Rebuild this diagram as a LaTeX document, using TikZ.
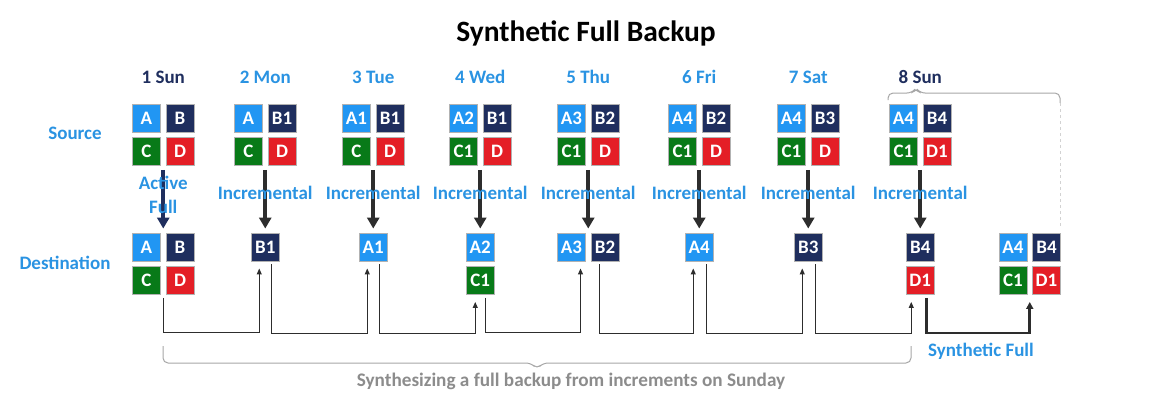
\documentclass[tikz,border=0pt]{standalone}
\usepackage{fontspec}
\setmainfont{Carlito}
\usetikzlibrary{arrows.meta, positioning}

\definecolor{cellA}{RGB}{33,150,243}
\definecolor{cellB}{RGB}{31,46,94}
\definecolor{cellC}{RGB}{8,122,24}
\definecolor{cellD}{RGB}{228,30,38}
\definecolor{txtblue}{RGB}{42,147,226}
\definecolor{navy}{RGB}{31,46,94}
\definecolor{lnk}{RGB}{45,45,45}
\definecolor{notegray}{RGB}{140,140,140}

\tikzset{
    cell/.style={minimum size=28pt, inner sep=0pt, draw=gray!60, line width=0.9pt,
        text=white, font=\fontsize{19}{19}\selectfont\bfseries},
    cellA/.style={cell, fill=cellA},
    cellB/.style={cell, fill=cellB},
    cellC/.style={cell, fill=cellC},
    cellD/.style={cell, fill=cellD},
    stage/.style={text=txtblue, font=\fontsize{19}{24}\selectfont\bfseries},
    xfer/.style={line width=4pt, draw=lnk, -{Triangle[length=11pt, width=12pt]},
        shorten <=4pt, shorten >=4pt},
    link/.style={line width=1pt, draw=lnk, -{Triangle[length=6pt, width=5pt]},
        shorten <=3pt, shorten >=7pt},
    synth/.style={line width=2.6pt, -{Triangle[length=7pt, width=7pt]}},
    brace/.style={line width=1pt, draw=gray!70, rounded corners=5pt}
}

\begin{document}
\begin{tikzpicture}[x=1pt, y=-1pt, node distance=33.5pt, on grid]
    \useasboundingbox (0,0) rectangle (1154,410);

    \node[font=\fontsize{29.5}{29.5}\selectfont\bfseries] (title) at (586,33) {Synthetic Full Backup};

    % days
    \node[stage, text=navy] (t1) at (163.25,77) {1 Sun};
    \node[stage]            (t2) at (265.25,77) {2 Mon};
    \node[stage]            (t3) at (373.25,77) {3 Tue};
    \node[stage]            (t4) at (480.25,77) {4 Wed};
    \node[stage]            (t5) at (588.25,77) {5 Thu};
    \node[stage]            (t6) at (699.25,77) {6 Fri};
    \node[stage]            (t7) at (808.25,77) {7 Sat};
    \node[stage, text=navy] (t8) at (920.25,77) {8 Sun};

    \node[stage] (src) at (75,133) {Source};
    \node[stage] (dst) at (65,263) {Destination};

    % source
    \node[cellA] (s1a) at (146.5,118) {A};
    \node[cellB] (s1b) [right=of s1a] {B};
    \node[cellC] (s1c) [below=of s1a] {C};
    \node[cellD] (s1d) [right=of s1c] {D};

    \node[cellA] (s2a) at (248.5,118) {A};
    \node[cellB] (s2b) [right=of s2a] {B1};
    \node[cellC] (s2c) [below=of s2a] {C};
    \node[cellD] (s2d) [right=of s2c] {D};

    \node[cellA] (s3a) at (356.5,118) {A1};
    \node[cellB] (s3b) [right=of s3a] {B1};
    \node[cellC] (s3c) [below=of s3a] {C};
    \node[cellD] (s3d) [right=of s3c] {D};

    \node[cellA] (s4a) at (463.5,118) {A2};
    \node[cellB] (s4b) [right=of s4a] {B1};
    \node[cellC] (s4c) [below=of s4a] {C1};
    \node[cellD] (s4d) [right=of s4c] {D};

    \node[cellA] (s5a) at (571.5,118) {A3};
    \node[cellB] (s5b) [right=of s5a] {B2};
    \node[cellC] (s5c) [below=of s5a] {C1};
    \node[cellD] (s5d) [right=of s5c] {D};

    \node[cellA] (s6a) at (682.5,118) {A4};
    \node[cellB] (s6b) [right=of s6a] {B2};
    \node[cellC] (s6c) [below=of s6a] {C1};
    \node[cellD] (s6d) [right=of s6c] {D};

    \node[cellA] (s7a) at (791.5,118) {A4};
    \node[cellB] (s7b) [right=of s7a] {B3};
    \node[cellC] (s7c) [below=of s7a] {C1};
    \node[cellD] (s7d) [right=of s7c] {D};

    \node[cellA] (s8a) at (903.5,118) {A4};
    \node[cellB] (s8b) [right=of s8a] {B4};
    \node[cellC] (s8c) [below=of s8a] {C1};
    \node[cellD] (s8d) [right=of s8c] {D1};

    % destination
    \node[cellA] (d1a) at (146.5,247) {A};
    \node[cellB] (d1b) [right=of d1a] {B};
    \node[cellC] (d1c) [below=of d1a] {C};
    \node[cellD] (d1d) [right=of d1c] {D};

    \node[cellB] (d2) at (265.25,247) {B1};
    \node[cellA] (d3) at (373.25,247) {A1};
    \node[cellA] (d4a) at (480.25,247) {A2};
    \node[cellC] (d4c) [below=of d4a] {C1};
    \node[cellA] (d5a) at (571.5,247) {A3};
    \node[cellB] (d5b) [right=of d5a] {B2};
    \node[cellA] (d6) at (699.25,247) {A4};
    \node[cellB] (d7) at (808.25,247) {B3};
    \node[cellB] (d8b) at (920.25,247) {B4};
    \node[cellD] (d8d) [below=of d8b] {D1};

    \node[cellA] (fa) at (1013,247) {A4};
    \node[cellB] (fb) [right=of fa] {B4};
    \node[cellC] (fc) [below=of fa] {C1};
    \node[cellD] (fd) [right=of fc] {D1};

    % daily transfers
    \draw[xfer, draw=navy] ([xshift=16.75pt]s1c.south) -- ([xshift=16.75pt]d1a.north)
        node[stage, pos=0.44, align=center] {Active\\Full};
    \draw[xfer] ([xshift=16.75pt]s2c.south) -- (d2.north) node[stage, pos=0.41] {Incremental};
    \draw[xfer] ([xshift=16.75pt]s3c.south) -- (d3.north) node[stage, pos=0.41] {Incremental};
    \draw[xfer] ([xshift=16.75pt]s4c.south) -- (d4a.north) node[stage, pos=0.41] {Incremental};
    \draw[xfer] ([xshift=16.75pt]s5c.south) -- ([xshift=16.75pt]d5a.north) node[stage, pos=0.41] {Incremental};
    \draw[xfer] ([xshift=16.75pt]s6c.south) -- (d6.north) node[stage, pos=0.41] {Incremental};
    \draw[xfer] ([xshift=16.75pt]s7c.south) -- (d7.north) node[stage, pos=0.41] {Incremental};
    \draw[xfer] ([xshift=16.75pt]s8c.south) -- (d8b.north) node[stage, pos=0.41] {Incremental};

    % chain of increments
    \draw[link] ([xshift=16.75pt]d1c.south) -- ++(0,38) -| ([xshift=-6pt]d2.south);
    \draw[link] ([xshift=6pt]d2.south) -- ++(0,72) -| ([xshift=-6pt]d3.south);
    \draw[link] ([xshift=6pt]d3.south) -- ++(0,72) -| ([xshift=-5pt]d4c.south);
    \draw[link] ([xshift=5pt]d4c.south) -- ++(0,38) -| ([xshift=9pt]d5a.south);
    \draw[link] ([xshift=-6pt]d5b.south) -- ++(0,72) -| ([xshift=-6pt]d6.south);
    \draw[link] ([xshift=7pt]d6.south) -- ++(0,72) -| ([xshift=-6pt]d7.south);
    \draw[link] ([xshift=7pt]d7.south) -- ++(0,72) -| ([xshift=-9pt]d8d.south);
    \draw[link, synth] ([xshift=6pt]d8d.south) -- ++(0,38) -| ([xshift=16.75pt]fc.south);

    \node[stage] (sf) at (981,351) {Synthetic Full};

    % braces
    \draw[brace] (163,346) |- (531,363) -- (537,369) -- (543,363) -| (911,346);
    \node[text=notegray, font=\fontsize{19.2}{19.2}\selectfont\bfseries] (note) at (571,381)
        {Synthesizing a full backup from increments on Sunday};
    \draw[brace] (888,100) |- (912,93) -- (916,88) -- (920,93) -| (1060,103);
    \draw[line width=1pt, draw=gray!35, dashed] (1060,103) -- (1060,226);
\end{tikzpicture}
\end{document}
